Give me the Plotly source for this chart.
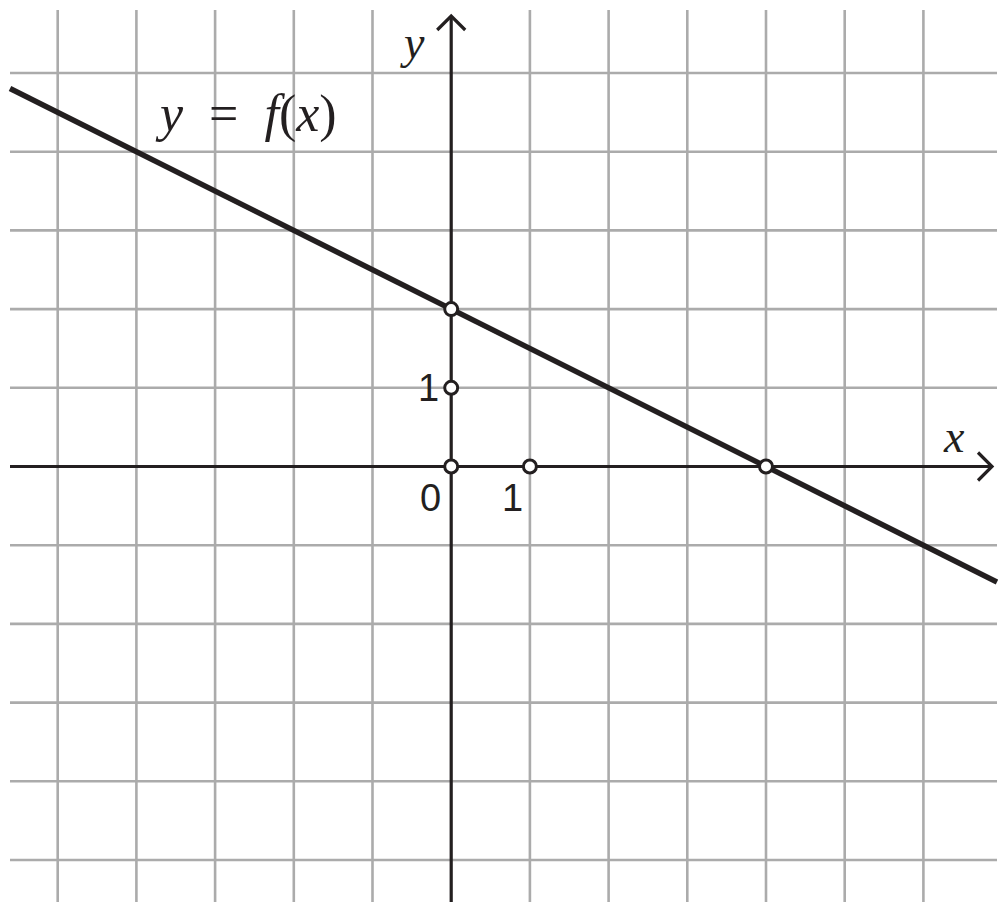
import plotly.graph_objects as go
import numpy as np

# ---- data ----
grid_x = [-5, -4, -3, -2, -1, 0, 1, 2, 3, 4, 5, 6]
grid_y = [-5, -4, -3, -2, -1, 0, 1, 2, 3, 4, 5]
line_x = [-5.606, 6.935]          # visible extent of y = f(x)
slope, intercept = -0.5, 2.0      # f(x) = 2 - x/2
point_x = [0, 0, 0, 1, 4]
point_y = [2, 1, 0, 0, 0]

# ---- geometry helpers (screen pixels; page body has an 8px margin) ----
M = 8
W, H = 1006 - M, 912 - M
ox, oy, unit = 451.2, 466.5, 78.7
def dx(p):
    return (p - ox) / unit
def dy(p):
    return (oy - p) / unit

xr = [dx(M), dx(M + W)]
yr = [dy(M + H), dy(M)]

fig = go.Figure()

GRID = "#ababab"
gx, gy = [], []
for v in grid_x:
    if v == 0:
        continue
    gx += [v, v, None]
    gy += [dy(902), dy(10), None]
for v in grid_y:
    if v == 0:
        continue
    gx += [dx(10), dx(997), None]
    gy += [v, v, None]
fig.add_trace(go.Scatter(x=gx, y=gy, mode="lines",
                         line=dict(color=GRID, width=2.6),
                         hoverinfo="skip", showlegend=False))

AX = "#231f20"
fig.add_trace(go.Scatter(x=[dx(10), dx(992)], y=[0, 0], mode="lines",
                         line=dict(color=AX, width=3.2), showlegend=False))
fig.add_trace(go.Scatter(x=[0, 0], y=[dy(902), dy(16)], mode="lines",
                         line=dict(color=AX, width=3.2), showlegend=False))
a = 14 / unit
xt = dx(992)
fig.add_trace(go.Scatter(x=[xt - a, xt, xt - a], y=[a, 0, -a], mode="lines",
                         line=dict(color=AX, width=3.2), showlegend=False))
yt = dy(16)
fig.add_trace(go.Scatter(x=[-a, 0, a], y=[yt - a, yt, yt - a], mode="lines",
                         line=dict(color=AX, width=3.2), showlegend=False))

lx = np.array(line_x)
fig.add_trace(go.Scatter(x=lx, y=intercept + slope * lx, mode="lines",
                         line=dict(color=AX, width=5.5), showlegend=False))

fig.add_trace(go.Scatter(x=point_x, y=point_y, mode="markers",
                         marker=dict(size=13, color="white",
                                     line=dict(color=AX, width=3)),
                         showlegend=False))

num_font = dict(family="Arial", size=38, color=AX)
ser_font = dict(family="Times New Roman", size=46, color=AX)
lab_font = dict(family="Times New Roman", size=52, color=AX)
annos = [
    dict(x=dx(428), y=dy(388), text="1", font=num_font),
    dict(x=dx(430), y=dy(498), text="0", font=num_font),
    dict(x=dx(512), y=dy(498), text="1", font=num_font),
    dict(x=dx(412), y=dy(42), text="<i>y</i>", font=ser_font),
    dict(x=dx(954), y=dy(436), text="<i>x</i>", font=ser_font),
    dict(x=dx(246), y=dy(114),
         text="<i>y</i>\u00a0\u00a0=\u00a0\u00a0<i>f</i>(<i>x</i>)", font=lab_font),
]
for an in annos:
    fig.add_annotation(xref="x", yref="y", showarrow=False,
                       xanchor="center", yanchor="middle", **an)

fig.update_layout(
    width=W, height=H, margin=dict(l=0, r=0, t=0, b=0),
    paper_bgcolor="white", plot_bgcolor="white",
    xaxis=dict(range=xr, visible=False, fixedrange=True),
    yaxis=dict(range=yr, visible=False, fixedrange=True),
    showlegend=False,
)
fig.write_html("out.html")
